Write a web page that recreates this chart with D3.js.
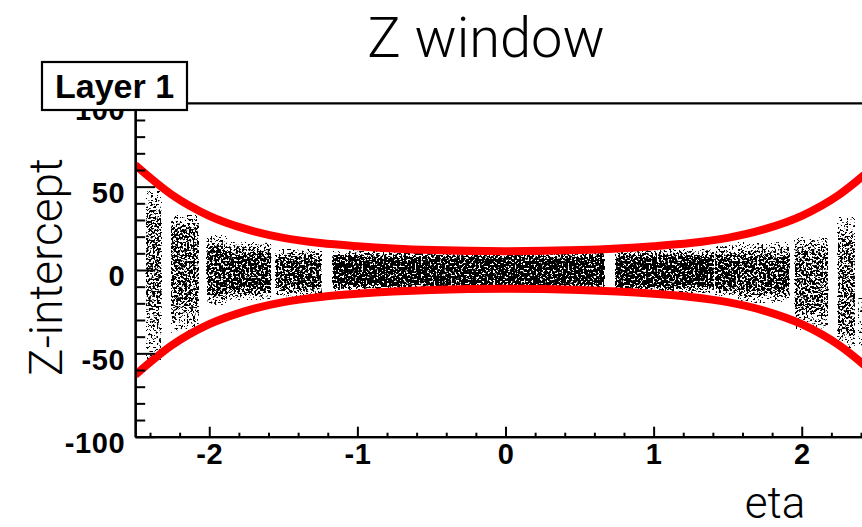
<!DOCTYPE html>
<html>
<head>
<meta charset="utf-8">
<script src="https://cdn.jsdelivr.net/npm/d3@7"></script>
<style>
  html, body { margin: 0; padding: 0; background: #fff; }
  svg { display: block; }
</style>
</head>
<body>
<script>
// Hit bands: eta range of each band and its z profile (outer edge, dense core, core density)
const bandEtaStart = [-2.43, -2.26, -2.02, -1.88, -1.555, -1.17, 0.74, 1.41, 1.57, 1.95, 2.24, 2.38];
const bandEtaEnd   = [-2.32, -2.07, -1.88, -1.58, -1.24, 0.67, 1.41, 1.57, 1.92, 2.18, 2.36, 2.41];
const bandOuterTop = [48, 33, 21, 17, 13, 12, 13, 15, 17, 20, 32, -15];
const bandCoreTop  = [30, 24, 11, 8, 6, 7, 7, 7, 6, 10, 16, -25];
const bandCoreBot  = [-12, -18, -13, -11, -9, -8, -9, -10, -11, -21, -36, -35];
const bandOuterBot = [-55, -38, -21, -18, -16, -13, -14, -16, -20, -36, -47, -48];
const bandDensity  = [0.53, 0.55, 0.59, 0.61, 0.6, 0.64, 0.63, 0.6, 0.59, 0.55, 0.53, 0.42];

// Z window boundaries as a function of eta
const windowEta   = [-2.5, -2.25, -2, -1.75, -1.5, -1.25, -1, -0.5, 0, 0.5, 1, 1.25, 1.5, 1.75, 2, 2.25, 2.5];
const windowUpper = [63, 45, 32.5, 24.5, 19.3, 16.2, 14.3, 12, 11.3, 12, 14.3, 16.2, 19.3, 24.5, 32.5, 45, 63];
const windowLower = [-63, -45, -32.5, -24.5, -19.3, -16.2, -14.3, -12, -11.3, -12, -14.3, -16.2, -19.3, -24.5, -32.5, -45, -63];

// Axis ticks
const etaMajorTicks = [-2, -1, 0, 1, 2];
const etaMinorTicks = [-2.4, -2.2, -1.8, -1.6, -1.4, -1.2, -0.8, -0.6, -0.4, -0.2, 0.2, 0.4, 0.6, 0.8, 1.2, 1.4, 1.6, 1.8, 2.2, 2.4];
const zMajorTicks = [-100, -50, 0, 50, 100];
const zMinorTicks = [-90, -80, -70, -60, -40, -30, -20, -10, 10, 20, 30, 40, 60, 70, 80, 90];

const W = 862, H = 527;
const plotLeft = 135.2, plotRight = 875.8, plotTop = 103.3, plotBottom = 436.7;

const x = d3.scaleLinear().domain([-2.5, 2.5]).range([plotLeft, plotRight]);
const y = d3.scaleLinear().domain([-100, 100]).range([plotBottom, plotTop]);

const svg = d3.select("body").append("svg")
  .attr("width", W).attr("height", H)
  .attr("viewBox", `0 0 ${W} ${H}`);

svg.append("rect").attr("width", W).attr("height", H).attr("fill", "#fff");

const defs = svg.append("defs");
defs.append("clipPath").attr("id", "plot-clip")
  .append("rect").attr("x", plotLeft).attr("y", plotTop)
  .attr("width", plotRight - plotLeft).attr("height", plotBottom - plotTop);

// Speckle filter: thresholded noise whose density follows the alpha of the shape
const f = defs.append("filter").attr("id", "speckle")
  .attr("filterUnits", "objectBoundingBox")
  .attr("x", 0).attr("y", 0).attr("width", 1).attr("height", 1)
  .attr("color-interpolation-filters", "sRGB");
f.append("feTurbulence").attr("type", "fractalNoise")
  .attr("baseFrequency", 0.47).attr("numOctaves", 2).attr("seed", 11).attr("result", "noise");
f.append("feColorMatrix").attr("in", "noise").attr("type", "matrix")
  .attr("values", "0 0 0 0 0  0 0 0 0 0  0 0 0 0 0  1 0 0 0 0").attr("result", "na");
f.append("feComposite").attr("in", "na").attr("in2", "SourceGraphic")
  .attr("operator", "arithmetic").attr("k1", 0).attr("k2", 1).attr("k3", 1).attr("k4", -1)
  .attr("result", "v");
const ct = f.append("feComponentTransfer").attr("in", "v");
["feFuncR", "feFuncG", "feFuncB"].forEach(n => ct.append(n).attr("type", "linear").attr("slope", 0).attr("intercept", 0));
ct.append("feFuncA").attr("type", "linear").attr("slope", 20).attr("intercept", 0);

const haloLevel = 0.37;
const bands = bandEtaStart.map((e0, i) => ({
  e0, e1: bandEtaEnd[i],
  oTop: bandOuterTop[i], cTop: bandCoreTop[i], cBot: bandCoreBot[i], oBot: bandOuterBot[i],
  d: bandDensity[i]
}));

bands.forEach((b, i) => {
  const y0 = y(b.oTop), y1 = y(b.oBot), h = y1 - y0;
  const g = defs.append("linearGradient").attr("id", "band-grad-" + i)
    .attr("x1", 0).attr("y1", 0).attr("x2", 0).attr("y2", 1);
  [[0, haloLevel], [(y(b.cTop) - y0) / h, b.d], [(y(b.cBot) - y0) / h, b.d], [1, haloLevel]]
    .forEach(([o, a]) => g.append("stop").attr("offset", o).attr("stop-color", "#000").attr("stop-opacity", a));
});

const plot = svg.append("g").attr("clip-path", "url(#plot-clip)");

plot.selectAll("rect.band").data(bands).join("rect")
  .attr("class", "band")
  .attr("x", b => x(b.e0))
  .attr("width", b => x(b.e1) - x(b.e0))
  .attr("y", b => y(b.oTop))
  .attr("height", b => y(b.oBot) - y(b.oTop))
  .attr("fill", (b, i) => `url(#band-grad-${i})`)
  .attr("filter", "url(#speckle)");

// Window boundaries
const line = d3.line().x(d => x(d[0])).y(d => y(d[1])).curve(d3.curveMonotoneX);
[windowUpper, windowLower].forEach(vals => {
  plot.append("path")
    .attr("d", line(windowEta.map((e, i) => [e, vals[i]])))
    .attr("fill", "none").attr("stroke", "#ff0000").attr("stroke-width", 8);
});

// Axes
const tickFont = "'Liberation Sans', Arial, Helvetica, sans-serif";
const plainInt = d => String(d);

const yMajor = d3.axisLeft(y).tickValues(zMajorTicks).tickSize(-20).tickSizeOuter(0).tickPadding(10).tickFormat(plainInt);
const yMinor = d3.axisLeft(y).tickValues(zMinorTicks).tickSize(-10).tickSizeOuter(0).tickFormat("");
const xMajor = d3.axisBottom(x).tickValues(etaMajorTicks).tickSize(-10).tickSizeOuter(0).tickPadding(7).tickFormat(plainInt);
const xMinor = d3.axisBottom(x).tickValues(etaMinorTicks).tickSize(-4).tickSizeOuter(0).tickFormat("");

function styleAxis(g) {
  g.select(".domain").attr("stroke", "#000").attr("stroke-width", 2.2);
  g.selectAll(".tick line").attr("stroke", "#000").attr("stroke-width", 2);
  g.selectAll(".tick text").attr("fill", "#000")
    .attr("font-family", tickFont).attr("font-weight", "bold").attr("font-size", 29)
    .attr("letter-spacing", 0.6);
}

svg.append("g").attr("transform", `translate(${plotLeft},0)`).call(yMinor).call(styleAxis);
const gy = svg.append("g").attr("transform", `translate(${plotLeft},0)`).call(yMajor).call(styleAxis);
gy.selectAll(".tick text").attr("dy", "0.55em");

svg.append("g").attr("transform", `translate(0,${plotBottom})`).call(xMinor).call(styleAxis);
svg.append("g").attr("transform", `translate(0,${plotBottom})`).call(xMajor).call(styleAxis);

// Frame top edge and right edge
svg.append("line").attr("x1", plotLeft).attr("x2", plotRight).attr("y1", plotTop).attr("y2", plotTop)
  .attr("stroke", "#000").attr("stroke-width", 2.2);
svg.append("line").attr("x1", plotRight).attr("x2", plotRight).attr("y1", plotTop).attr("y2", plotBottom)
  .attr("stroke", "#000").attr("stroke-width", 2.2);

// Titles
const titleFont = "Roboto, 'Helvetica Neue', Helvetica, Arial, sans-serif";
svg.append("text").attr("x", 486).attr("y", 57).attr("text-anchor", "middle")
  .attr("font-family", titleFont).attr("font-weight", 300).attr("font-size", 56)
  .attr("fill", "#000").text("Z window");

svg.append("text").attr("transform", "translate(62,267) rotate(-90)").attr("text-anchor", "middle")
  .attr("font-family", titleFont).attr("font-weight", 300).attr("font-size", 46)
  .attr("fill", "#000").text("Z-intercept");

svg.append("text").attr("x", 775).attr("y", 518).attr("text-anchor", "middle")
  .attr("font-family", titleFont).attr("font-weight", 300).attr("font-size", 44)
  .attr("fill", "#000").text("eta");

// Layer label box
svg.append("rect").attr("x", 42).attr("y", 62).attr("width", 145).attr("height", 48)
  .attr("fill", "#fff").attr("stroke", "#000").attr("stroke-width", 2.2);
svg.append("text").attr("x", 114.5).attr("y", 98).attr("text-anchor", "middle")
  .attr("font-family", tickFont).attr("font-weight", "bold").attr("font-size", 34)
  .attr("fill", "#000").text("Layer 1");
</script>
</body>
</html>
